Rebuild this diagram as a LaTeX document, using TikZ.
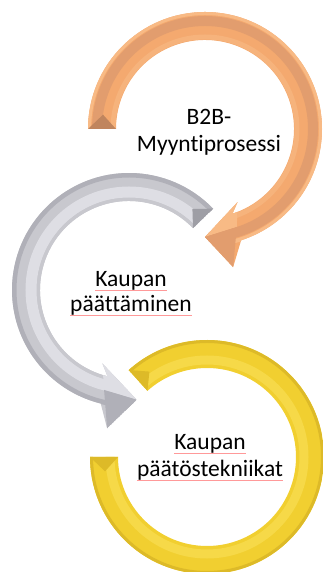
\documentclass[tikz,border=0pt]{standalone}
\usepackage{fontspec}
\setmainfont{Carlito}[Ligatures=NoCommon]
\begin{document}
\begin{tikzpicture}[x=1pt,y=1pt,
  lbl/.style={anchor=base,inner sep=0pt,font=\fontsize{23.5}{26}\selectfont,text=black},
  spell/.style={draw=red!40,line width=0.6pt}]
\useasboundingbox (0,0) rectangle (323,572);
\definecolor{orA}{HTML}{F4A96F}
\definecolor{orD}{HTML}{E29D6E}
\definecolor{orL}{HTML}{F8BA85}
\definecolor{grA}{HTML}{C8C8CE}
\definecolor{grD}{HTML}{B0B0B8}
\definecolor{grL}{HTML}{DEDEE4}
\definecolor{yeA}{HTML}{F1CF30}
\definecolor{yeD}{HTML}{DDBA28}
\definecolor{yeL}{HTML}{F6D948}

% ---------- orange arrow ----------
\begin{scope}[shift={(205,443)}]
  \def\ringO{(180:117) arc[start angle=180,end angle=-72,radius=117] -- (-78.5:141) -- (-90:108) -- (-66:80) -- (-72:89) arc[start angle=-72,end angle=180,radius=89] -- cycle}
  \fill[orA] \ringO;
  \begin{scope}
    \clip \ringO;
    \draw[orL,line width=4] (0,0) circle (116);
    \draw[orD,line width=10] (0,0) circle (108);
    \draw[orL!60!orA,line width=5] (0,0) circle (92);
    \fill[orL] (-90:108) -- (-66:80) -- (-72:103) -- cycle;
    \fill[orD] (-90:108) -- (-78.5:141) -- (-72:103) -- cycle;
    \fill[orD!85!black] (180:117) -- (180:89) -- (172:103) -- cycle;
  \end{scope}
\end{scope}

% ---------- gray arrow ----------
\begin{scope}[shift={(129,282)}]
  \def\ringG{(44:117) arc[start angle=44,end angle=256,radius=117] -- (261:140) -- (274:110) -- (250:78) -- (256:89) arc[start angle=256,end angle=44,radius=89] -- cycle}
  \fill[grA] \ringG;
  \begin{scope}
    \clip \ringG;
    \draw[grD,line width=5] (0,0) circle (115);
    \draw[grL,line width=11] (0,0) circle (98);
    \draw[grA,line width=4] (0,0) circle (90);
    \fill[grL] (274:110) -- (250:78) -- (256:103) -- cycle;
    \fill[grD] (274:110) -- (261:140) -- (256:103) -- cycle;
    \fill[grD!90!black] (44:117) -- (44:89) -- (52:103) -- cycle;
  \end{scope}
\end{scope}

% ---------- yellow arrow ----------
\begin{scope}[shift={(207,115)}]
  \def\ringY{(132:117) arc[start angle=132,end angle=-180,radius=117] -- (180:89) arc[start angle=-180,end angle=132,radius=89] -- cycle}
  \fill[yeA] \ringY;
  \begin{scope}
    \clip \ringY;
    \draw[yeD,line width=4] (0,0) circle (116);
    \draw[yeL,line width=9] (0,0) circle (97);
    \fill[yeD] (132:117) -- (132:89) -- (124:103) -- cycle;
    \fill[yeD] (180:117) -- (180:89) -- (188:103) -- cycle;
  \end{scope}
\end{scope}

% ---------- labels ----------
\node[lbl] (a1) at (209,447) {B2B-};
\node[lbl] (a2) at (209,420) {Myyntiprosessi};
\node[lbl] (b1) at (131,285) {Kaupan};
\node[lbl] (b2) at (131,260) {päättäminen};
\node[lbl] (c1) at (210,122) {Kaupan};
\node[lbl] (c2) at (210,95) {päätöstekniikat};

\foreach \n in {b1,b2,c1,c2}{
  \draw[spell] ([yshift=-3pt]\n.base west) -- ([yshift=-3pt]\n.base east);
}
\end{tikzpicture}
\end{document}
